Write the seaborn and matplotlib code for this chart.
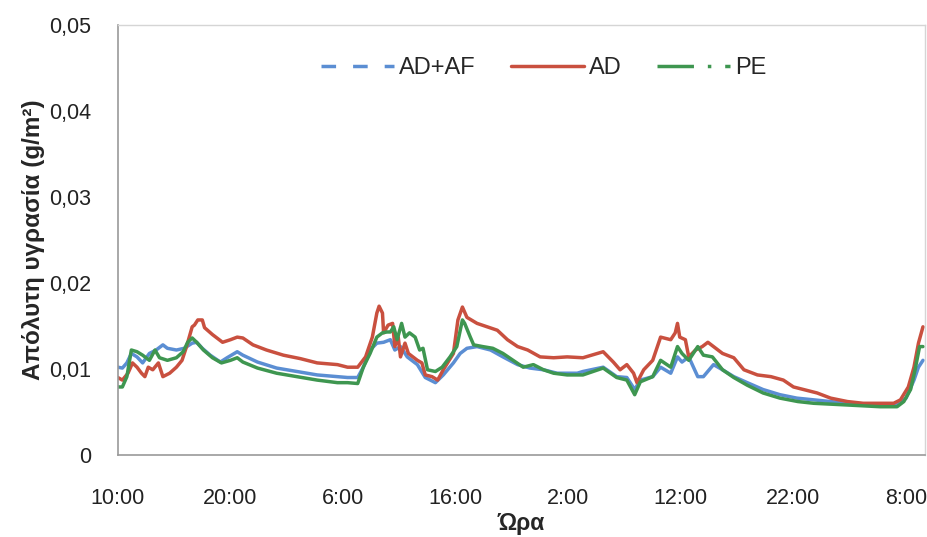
import matplotlib
matplotlib.use("Agg")
import matplotlib.pyplot as plt
from matplotlib.lines import Line2D
import seaborn as sns

sns.set_style("white")
plt.rcParams["font.family"] = ["Liberation Sans", "DejaVu Sans"]

# hours since 10:00 of the first day
ad_af_hours = [0.0, 0.4, 0.8, 1.2, 1.7, 2.2, 2.8, 3.4, 4.0, 4.4, 5.2, 5.9, 6.6, 7.0, 7.5, 8.2, 9.1, 9.7,
               10.6, 11.1, 12.4, 14.1, 15.9, 17.7, 19.5, 20.4, 21.3, 21.8, 22.4, 23.0, 23.6, 24.2, 24.6,
               25.1, 25.7, 26.6, 27.3, 28.2, 28.9, 29.8, 30.4, 31.0, 31.9, 33.1, 34.2, 35.5, 36.6, 37.8,
               39.0, 40.8, 41.3, 43.1, 44.3, 45.2, 45.9, 46.4, 47.5, 48.2, 49.1, 49.7, 50.1, 50.7, 51.5,
               52.0, 52.9, 53.7, 54.7, 55.9, 57.3, 58.8, 60.3, 61.8, 64.8, 67.7, 69.2, 70.0, 70.7, 71.1, 71.5]
ad_af = [0.0102, 0.0101, 0.0107, 0.0118, 0.0114, 0.0107, 0.0118, 0.0122, 0.0128, 0.0124, 0.0122, 0.0124,
         0.0130, 0.0131, 0.0124, 0.0116, 0.0108, 0.0113, 0.0120, 0.0116, 0.0108, 0.0101, 0.0097, 0.0093,
         0.0091, 0.0090, 0.0090, 0.0102, 0.0122, 0.0130, 0.0131, 0.0134, 0.0122, 0.0126, 0.0114, 0.0105,
         0.0090, 0.0084, 0.0093, 0.0107, 0.0118, 0.0124, 0.0126, 0.0122, 0.0114, 0.0105, 0.0101, 0.0099,
         0.0095, 0.0095, 0.0097, 0.0102, 0.0091, 0.0090, 0.0076, 0.0087, 0.0091, 0.0102, 0.0095, 0.0114,
         0.0108, 0.0114, 0.0091, 0.0091, 0.0105, 0.0099, 0.0091, 0.0084, 0.0076, 0.0070, 0.0066, 0.0064,
         0.0060, 0.0058, 0.0058, 0.0066, 0.0087, 0.0102, 0.0110]

ad_hours = [0.0, 0.4, 0.9, 1.3, 1.7, 2.1, 2.4, 2.7, 3.1, 3.6, 4.0, 4.6, 5.2, 5.7, 6.1, 6.6, 6.8, 7.1, 7.5,
            7.7, 8.4, 9.3, 10.0, 10.6, 11.1, 12.0, 13.2, 14.7, 16.2, 17.7, 19.5, 20.4, 21.3, 22.0, 22.6,
            23.0, 23.2, 23.5, 23.6, 24.0, 24.4, 24.6, 24.9, 25.1, 25.5, 25.8, 26.6, 27.0, 27.3, 27.9, 28.4,
            28.9, 29.8, 30.2, 30.6, 31.0, 31.9, 32.8, 33.7, 34.6, 35.5, 36.4, 37.5, 38.7, 39.9, 41.3, 43.1,
            44.0, 44.6, 45.2, 45.8, 46.1, 46.7, 47.5, 48.2, 49.1, 49.5, 49.7, 49.9, 50.4, 50.7, 51.3, 51.9,
            52.4, 52.9, 53.7, 54.7, 55.6, 56.8, 58.0, 59.1, 60.0, 60.9, 62.1, 63.3, 64.8, 66.2, 67.7, 68.9,
            69.5, 70.2, 70.7, 71.1, 71.5]
ad = [0.0090, 0.0087, 0.0095, 0.0107, 0.0102, 0.0095, 0.0091, 0.0102, 0.0099, 0.0107, 0.0091, 0.0095,
      0.0102, 0.0110, 0.0126, 0.0149, 0.0151, 0.0157, 0.0157, 0.0148, 0.0140, 0.0131, 0.0134, 0.0137,
      0.0136, 0.0128, 0.0122, 0.0116, 0.0112, 0.0107, 0.0105, 0.0102, 0.0102, 0.0114, 0.0137, 0.0165,
      0.0173, 0.0165, 0.0142, 0.0151, 0.0153, 0.0126, 0.0137, 0.0114, 0.0130, 0.0118, 0.0110, 0.0107,
      0.0093, 0.0091, 0.0087, 0.0099, 0.0118, 0.0157, 0.0172, 0.0160, 0.0153, 0.0149, 0.0145, 0.0134,
      0.0126, 0.0122, 0.0114, 0.0113, 0.0114, 0.0113, 0.0120, 0.0108, 0.0099, 0.0105, 0.0095, 0.0084,
      0.0099, 0.0110, 0.0137, 0.0134, 0.0142, 0.0153, 0.0137, 0.0134, 0.0114, 0.0122, 0.0126, 0.0131,
      0.0126, 0.0118, 0.0113, 0.0099, 0.0093, 0.0091, 0.0087, 0.0079, 0.0076, 0.0072, 0.0066, 0.0062,
      0.0060, 0.0060, 0.0060, 0.0064, 0.0079, 0.0102, 0.0130, 0.0149]

pe_hours = [0.0, 0.4, 0.8, 1.2, 1.7, 2.2, 2.8, 3.3, 3.7, 4.4, 5.2, 5.8, 6.2, 6.6, 7.0, 7.6, 8.4, 9.2, 10.0,
            10.6, 11.1, 12.4, 14.1, 15.9, 17.7, 19.5, 20.4, 21.3, 21.8, 22.4, 23.0, 23.5, 23.9, 24.2, 24.5,
            24.8, 25.2, 25.5, 25.9, 26.4, 26.8, 27.1, 27.5, 28.2, 28.8, 29.5, 30.1, 30.6, 30.8, 31.3, 31.6,
            32.4, 33.3, 34.2, 35.1, 36.0, 36.9, 37.8, 38.7, 39.9, 40.8, 41.3, 43.1, 44.3, 45.2, 45.9, 46.4,
            47.5, 48.2, 49.1, 49.7, 50.1, 50.7, 51.5, 52.0, 52.8, 53.7, 54.7, 55.9, 57.3, 58.8, 60.4, 61.8,
            64.8, 67.7, 69.2, 69.8, 70.4, 70.8, 71.2, 71.5]
pe = [0.0079, 0.0079, 0.0091, 0.0122, 0.0120, 0.0116, 0.0110, 0.0122, 0.0113, 0.0110, 0.0113, 0.0120,
      0.0131, 0.0136, 0.0131, 0.0122, 0.0113, 0.0107, 0.0110, 0.0113, 0.0108, 0.0101, 0.0095, 0.0091,
      0.0087, 0.0084, 0.0084, 0.0083, 0.0102, 0.0118, 0.0137, 0.0142, 0.0143, 0.0143, 0.0149, 0.0134,
      0.0153, 0.0137, 0.0142, 0.0137, 0.0122, 0.0124, 0.0099, 0.0097, 0.0102, 0.0114, 0.0126, 0.0157,
      0.0153, 0.0137, 0.0128, 0.0126, 0.0124, 0.0118, 0.0110, 0.0102, 0.0105, 0.0099, 0.0095, 0.0093,
      0.0093, 0.0093, 0.0101, 0.0090, 0.0087, 0.0070, 0.0085, 0.0091, 0.0110, 0.0102, 0.0126, 0.0118,
      0.0110, 0.0126, 0.0116, 0.0114, 0.0099, 0.0090, 0.0081, 0.0072, 0.0066, 0.0062, 0.0060, 0.0058,
      0.0056, 0.0056, 0.0062, 0.0076, 0.0099, 0.0126, 0.0126]

tick_hours = [0, 10, 20, 30, 40, 50, 60, 70]
tick_labels = ["10:00", "20:00", "6:00", "16:00", "2:00", "12:00", "22:00", "8:00"]
y_ticks = [0, 0.01, 0.02, 0.03, 0.04, 0.05]
y_labels = ["0", "0,01", "0,02", "0,03", "0,04", "0,05"]

c_blue = "#5b8ed3"
c_red = "#c9503f"
c_green = "#3e9650"
lw = 2.5

fig = plt.figure(figsize=(9.28, 5.37), dpi=100)
ax = fig.add_axes([0.127, 0.153, 0.870, 0.800])

sns.lineplot(x=ad_af_hours, y=ad_af, ax=ax, color=c_blue, lw=lw)
sns.lineplot(x=ad_hours, y=ad, ax=ax, color=c_red, lw=lw)
sns.lineplot(x=pe_hours, y=pe, ax=ax, color=c_green, lw=lw)

ax.set_xlim(0, 71.7)
ax.set_ylim(0, 0.05)
ax.set_xticks(tick_hours)
ax.set_xticklabels(tick_labels, fontsize=15.5, color="#222222")
ax.set_yticks(y_ticks)
ax.set_yticklabels(y_labels, fontsize=15.5, color="#222222")
ax.tick_params(axis="x", direction="out", length=5, width=1, color="#999999", pad=19)
ax.tick_params(axis="y", direction="out", length=6, width=1, color="#999999", pad=13)

for side in ["left", "bottom"]:
    ax.spines[side].set_color("#999999")
    ax.spines[side].set_linewidth(1.2)
for side in ["top", "right"]:
    ax.spines[side].set_color("#d5d5d5")
    ax.spines[side].set_linewidth(1.0)

ax.set_xlabel("Ώρα", fontsize=16.5, fontweight="bold", labelpad=2)
ax.set_ylabel("Απόλυτη υγρασία (g/m²)", fontsize=17.5, fontweight="bold", labelpad=3)

handles = [
    Line2D([], [], color=c_blue, lw=lw, ls=(0, (4.2, 4.9))),
    Line2D([], [], color=c_red, lw=lw, ls="-"),
    Line2D([], [], color=c_green, lw=lw, ls=(0, (10.5, 4, 1, 4))),
]
ax.legend(handles, ["AD+AF", "AD", "PE"], loc="center", bbox_to_anchor=(0.527, 0.9),
          ncol=3, frameon=False, fontsize=17, handlelength=3.1, handletextpad=0.2,
          columnspacing=1.5)

plt.savefig("out.png", dpi=100)
